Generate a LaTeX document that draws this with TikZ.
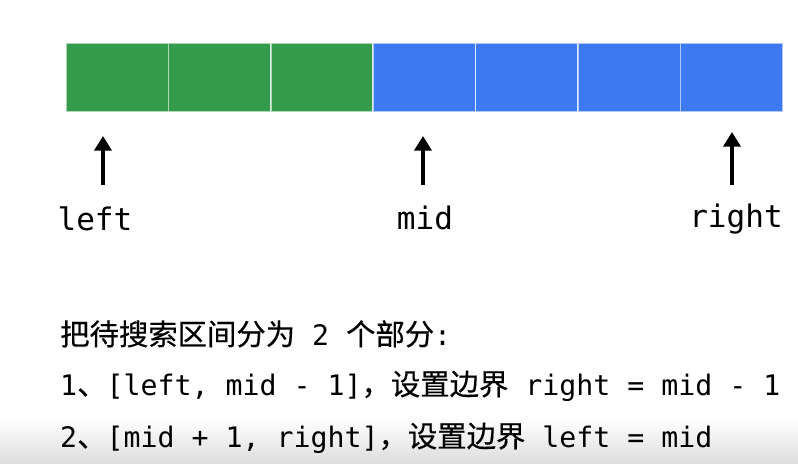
\documentclass[tikz,border=0pt]{standalone}
\usepackage{fontspec}
\newfontfamily\monofont{DejaVu Sans Mono}
\newfontfamily\cjk[Scale=1.04,FakeBold=0.4]{Noto Sans CJK SC}
\usetikzlibrary{arrows.meta}
\definecolor{cellgreen}{RGB}{51,155,75}
\definecolor{cellblue}{RGB}{61,121,240}

\begin{document}
\begin{tikzpicture}[x=0.03cm,y=-0.03cm,
    cell/.style={draw=white,draw opacity=0.6,line width=1.3pt,inner sep=0pt,outer sep=0pt,
        minimum width=3.072cm,minimum height=2.07cm},
    ptr/.style={line width=3.9pt,-{Triangle[width=14.5pt,length=12.5pt]}},
    lbl/.style={anchor=base,inner sep=0pt,font=\monofont\fontsize{26.5}{30}\selectfont},
    txt/.style={anchor=base west,inner sep=0pt,font=\monofont\fontsize{24.1}{29}\selectfont}]
    \useasboundingbox (0,0) rectangle (798,463);
    \shade[top color=white,bottom color=black!13] (0,418) rectangle (798,463);
    % the array
    \foreach \i/\c in {0/cellgreen,1/cellgreen,2/cellgreen,3/cellblue,4/cellblue,5/cellblue,6/cellblue}{
        \node[cell,fill=\c] (c\i) at (117.2+102.4*\i,77.5) {};
    }
    % pointers
    \foreach \n/\x/\lx/\tx/\by in {left/103/95/136/230,mid/423/425/136/229,right/732/736/132/227}{
        \coordinate (\n t) at (\x,185);
        \coordinate (\n h) at (\x,\tx);
        \draw[ptr] (\n t) -- (\n h);
        \node[lbl] (\n) at (\lx,\by) {\n};
    }
    % explanation
    \node[txt] (l1) at (60,345) {{\cjk 把待搜索区间分为} 2 {\cjk 个部分}:};
    \node[txt] (l2) at (60,395) {1{\cjk 、}[left, mid - 1]{\cjk ，设置边界} right = mid - 1};
    \node[txt] (l3) at (60,447) {2{\cjk 、}[mid + 1, right]{\cjk ，设置边界} left = mid};
\end{tikzpicture}
\end{document}
